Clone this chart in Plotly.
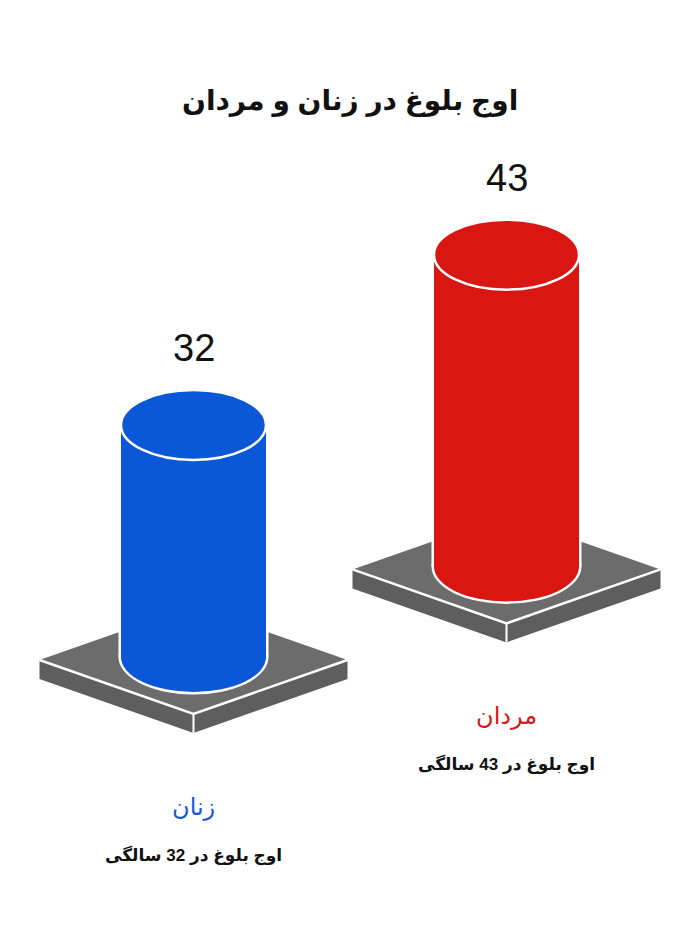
import plotly.graph_objects as go

# data
groups = ["زنان", "مردان"]
peak_age = [32, 43]
value_labels = ["32", "43"]
subtitles = ["اوج بلوغ در 32 سالگی", "اوج بلوغ در 43 سالگی"]
title_text = "اوج بلوغ در زنان و مردان"

# look
body_colors = ["#0a58d8", "#da1612"]
label_colors = ["#1a58d2", "#d21a16"]
slab_top = "#6c6c6c"
slab_side = "#5e5e5e"

# the page keeps an 8 px body margin, so the figure is drawn inside it
PAGE_W, PAGE_H, PAD = 700, 952, 8
W, H = PAGE_W - 2 * PAD, PAGE_H - 2 * PAD
PX = 7.25              # pixels per year on the value axis
ZERO = 657             # page row of value 0 for the left column
y_min = (ZERO - (PAGE_H - PAD)) / PX
y_max = (ZERO - PAD) / PX

centers_x = [193.5, 506.5]   # column centres (x axis is in page pixels)
base_level = [0, 12.5]       # the right pedestal stands higher on the page
rx = 72.5                    # column half width, px
ry = 35 / PX                 # ellipse half height, in value units
slab_w, slab_h, slab_t = 154, 54 / PX, 19 / PX


def u(p):
    return p / PX


def path(pts):
    return "M " + " L ".join(f"{x},{y}" for x, y in pts) + " Z"


shapes = []
annotations = []

for cx, b, v, col, lab_col, g, vl, sub in zip(centers_x, base_level, peak_age,
                                                body_colors, label_colors,
                                                groups, value_labels, subtitles):
    c = b - u(3)
    L = (cx - slab_w, c)
    F = (cx, c - slab_h)
    R = (cx + slab_w, c)
    B = (cx, c + slab_h)

    # pedestal sides then top face
    shapes.append(dict(type="path", layer="below", line=dict(width=0), fillcolor=slab_side,
                       path=path([L, F, (F[0], F[1] - slab_t), (L[0], L[1] - slab_t)])))
    shapes.append(dict(type="path", layer="below", line=dict(width=0), fillcolor=slab_side,
                       path=path([F, R, (R[0], R[1] - slab_t), (F[0], F[1] - slab_t)])))
    shapes.append(dict(type="path", layer="below", line=dict(width=0), fillcolor=slab_top,
                       path=path([L, F, R, B])))
    # white edges at the front of the pedestal
    shapes.append(dict(type="path", layer="below", line=dict(color="white", width=2.5),
                       path=f"M {L[0]},{L[1]} L {F[0]},{F[1]} L {R[0]},{R[1]}"))
    shapes.append(dict(type="line", layer="below", line=dict(color="white", width=2),
                       x0=F[0], x1=F[0], y0=F[1], y1=F[1] - slab_t))

    # bottom of the column
    shapes.append(dict(type="circle", layer="below", line=dict(width=0), fillcolor="white",
                       x0=cx - rx - 2.5, x1=cx + rx + 2.5, y0=b - ry - u(2.5), y1=b + ry + u(2.5)))
    shapes.append(dict(type="circle", layer="below", line=dict(width=0), fillcolor=col,
                       x0=cx - rx, x1=cx + rx, y0=b - ry, y1=b + ry))

    # top of the column
    top = b + v
    shapes.append(dict(type="circle", layer="above", line=dict(color="white", width=2.5),
                       fillcolor=col, x0=cx - rx, x1=cx + rx, y0=top - ry, y1=top + ry))

    annotations.append(dict(x=cx, y=top + ry + u(42), text=vl, showarrow=False,
                            font=dict(family="Liberation Sans, Arial", size=38, color="#111111")))
    annotations.append(dict(x=cx, y=b - u(150), text=g, showarrow=False,
                            font=dict(family="DejaVu Sans, Noto Sans", size=24, color=lab_col)))
    annotations.append(dict(x=cx, y=b - u(198), text="<b>" + sub + "</b>", showarrow=False,
                            font=dict(family="Liberation Sans, DejaVu Sans", size=17, color="#111111")))

annotations.append(dict(x=350, y=u(ZERO - 101), text="<b>" + title_text + "</b>", showarrow=False,
                        font=dict(family="Liberation Sans, DejaVu Sans", size=28, color="#111111")))

fig = go.Figure()
# white rim under the column body
fig.add_trace(go.Bar(x=centers_x, y=peak_age, base=base_level, width=2 * rx + 5,
                     marker=dict(color="white", line=dict(width=0)), hoverinfo="skip"))
# the coloured body starts a hair lower so no seam shows over the rim
fig.add_trace(go.Bar(x=centers_x, y=[v + u(2) for v in peak_age],
                     base=[b - u(2) for b in base_level], width=2 * rx,
                     marker=dict(color=body_colors, line=dict(width=0)),
                     hovertext=groups, hoverinfo="text"))

fig.update_layout(
    width=W, height=H,
    margin=dict(l=0, r=0, t=0, b=0),
    barmode="overlay",
    showlegend=False,
    paper_bgcolor="white",
    plot_bgcolor="white",
    shapes=shapes,
    annotations=annotations,
    xaxis=dict(range=[PAD, PAGE_W - PAD], visible=False, fixedrange=True),
    yaxis=dict(range=[y_min, y_max], visible=False, fixedrange=True),
)

fig.write_html("out.html", config={"displayModeBar": False})
